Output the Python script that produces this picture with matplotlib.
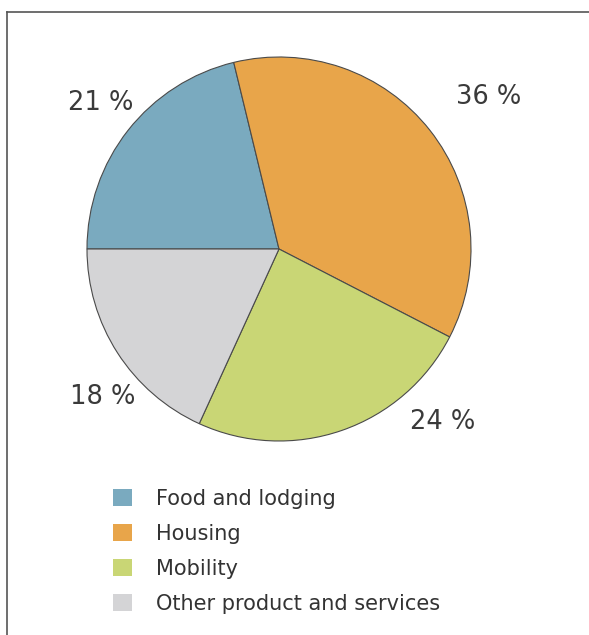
import matplotlib.pyplot as plt
from matplotlib.patches import Patch
from matplotlib.lines import Line2D

# share of each category (%)
categories = ["Food and lodging", "Housing", "Mobility", "Other product and services"]
shares = [21, 36, 24, 18]
colors = ["#7aaabf", "#e8a54a", "#c9d675", "#d4d4d6"]

# label offsets around the pie (pie radius = 1)
label_xy = [(-0.93, 0.76), (1.09, 0.79), (0.85, -0.90), (-0.92, -0.77)]

fig = plt.figure(figsize=(5.89, 6.35), dpi=100)

# frame lines on top and left
fig.add_artist(Line2D([7/589, 7/589], [0, 1-12/635], transform=fig.transFigure, color="#555555", lw=1.2))
fig.add_artist(Line2D([7/589, 1], [1-12/635, 1-12/635], transform=fig.transFigure, color="#555555", lw=1.2))

cx, cy, r = 279, 249, 192
ax = fig.add_axes([(cx-r)/589, 1-(cy+r)/635, 2*r/589, 2*r/635])
ax.pie(shares, colors=colors, startangle=180, counterclock=False,
       wedgeprops=dict(edgecolor="#4a4a4a", linewidth=0.8))
ax.set_xlim(-1, 1)
ax.set_ylim(-1, 1)
ax.set_aspect("auto")
ax.axis("off")

for v, (x, y) in zip(shares, label_xy):
    ax.text(x, y, "%d %%" % v, ha="center", va="center", fontsize=18.5,
            color="#3a3a3a", clip_on=False)

handles = [Patch(facecolor=c, edgecolor="none") for c in colors]
fig.legend(handles, categories, loc="upper left", bbox_to_anchor=(94/589, 1-470/635),
           frameon=False, fontsize=15, handlelength=0.9, handleheight=0.9,
           handletextpad=1.2, labelspacing=0.72, labelcolor="#333333")

fig.savefig("out.png", dpi=100)
